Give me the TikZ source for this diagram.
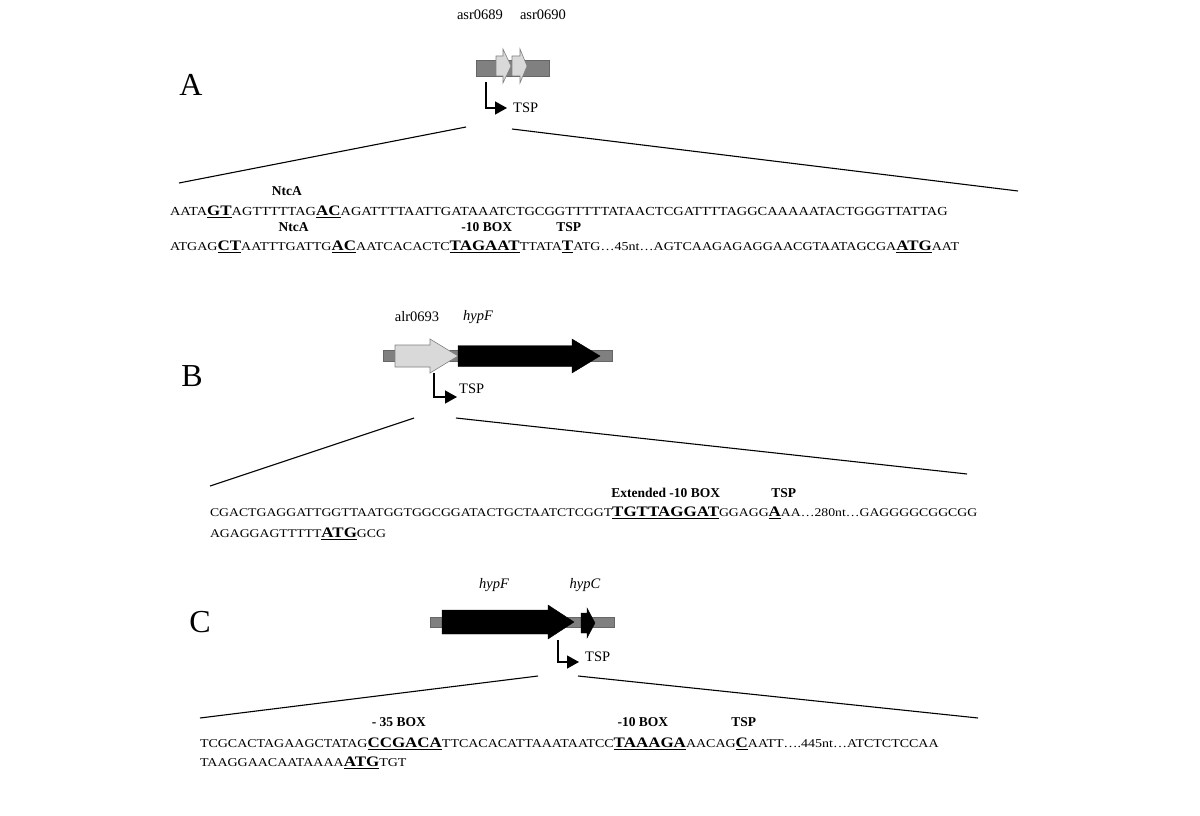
\documentclass[tikz,border=0pt]{standalone}
\usepackage{fontspec}
\setmainfont{Liberation Serif}
\newfontfamily\seqfont[FakeStretch=1.17]{Liberation Serif}
\usetikzlibrary{calc,arrows.meta}
\def\genearrow[#1](#2:#3:#4:#5)(#6:#7){\draw[#1] (#2,#5-#6) -- (#3,#5-#6) -- (#3,#5-#7) -- (#4,#5) -- (#3,#5+#7) -- (#3,#5+#6) -- (#2,#5+#6) -- cycle;}
\tikzset{
  seq/.style={inner sep=0pt, outer sep=0pt, anchor=base west, font=\seqfont\fontsize{#1}{14}\selectfont},
  seq/.default=12.1,
  motif/.style={inner sep=0pt, outer sep=0pt, anchor=base west, font=\seqfont\bfseries\fontsize{14.5}{17}\selectfont},
  lbl/.style={inner sep=0pt, anchor=base, font=\fontsize{13.5}{15}\selectfont\bfseries},
  gene/.style={inner sep=0pt, font=\fontsize{14.5}{16}\selectfont},
  panel/.style={inner sep=0pt, font=\fontsize{32}{34}\selectfont},
  uline/.style={line width=1.3pt},
  tsp/.style={line width=1.3pt, -{Triangle[length=12pt,width=13pt]}},
  spread/.style={line width=1.1pt},
  bar/.style={fill=black!50, draw=black!60, line width=0.4pt},
  light/.style={fill=black!15, draw=black!50, line width=0.6pt}
}
\begin{document}
\begin{tikzpicture}[x=1pt, y=-1pt]
			%%%%% START %%%%%
			\fill[white] (0,0) rectangle (1200,816);
			\useasboundingbox (0,0) rectangle (1200,816);
			
			%%%%% A %%%%%
			\node[panel] (pA) at (191,85) {A};
			\node[gene] (g689) at (480,15) {asr0689};
			\node[gene] (g690) at (543,15) {asr0690};
			\draw[bar] (476,60) rectangle (549,76);
			\genearrow[light](496:503:511:66)(10:17);
			\genearrow[light](512:520:527:66)(10:17);
			\coordinate (tipA) at (507,108);
			\draw[tsp] (486,82) |- (tipA);
			\node[gene, anchor=west] (tspA) at ($(tipA)+(6,0)$) {TSP};
			\draw[spread] (466,127) -- (179,183);
			\draw[spread] (512,129) -- (1018,191);
			
			\node[seq=12.3] (a1) at (170,215) {AATA};
			\node[motif] (a2) at (a1.base east) {GT};
			\node[seq=12.3] (a3) at (a2.base east) {AGTTTTTAG};
			\node[motif] (a4) at (a3.base east) {AC};
			\node[seq=12.3] (a5) at (a4.base east) {AGATTTTAATTGATAAATCTGCGGTTTTTATAACTCGATTTTAGGCAAAAATACTGGGTTATTAG};
			
			\node[seq=12] (a6) at (170,250) {ATGAG};
			\node[motif] (a7) at (a6.base east) {CT};
			\node[seq=12] (a8) at (a7.base east) {AATTTGATTG};
			\node[motif] (a9) at (a8.base east) {AC};
			\node[seq=12] (a10) at (a9.base east) {AATCACACTC};
			\node[motif] (a11) at (a10.base east) {TAGAAT};
			\node[seq=12] (a12) at (a11.base east) {TTATA};
			\node[motif] (a13) at (a12.base east) {T};
			\node[seq=12] (a14) at (a13.base east) {ATG…45nt…AGTCAAGAGAGGAACGTAATAGCGA};
			\node[motif] (a15) at (a14.base east) {ATG};
			\node[seq=12] (a16) at (a15.base east) {AAT};
			
			\node[lbl] (ntcA1) at ($(a2.base)!0.5!(a4.base)+(13,-20)$) {NtcA};
			\node[lbl] (ntcA2) at ($(a7.base)!0.5!(a9.base)+(7,-19)$) {NtcA};
			\node[lbl] (boxA) at ($(a11.base)+(2,-19)$) {-10 BOX};
			\node[lbl] (tspA2) at ($(a13.base)+(1,-19)$) {TSP};
			
			%%%%% B %%%%%
			\node[panel] (pB) at (192,376) {B};
			\node[gene] (g693) at (417,317) {alr0693};
			\node[gene] (hypFB) at (478,317) {\itshape hypF};
			\draw[bar] (383,350) rectangle (612,361);
			\genearrow[light](395:430:458:356)(11:17);
			\genearrow[fill=black](458:572:600:356)(10.5:17);
			\coordinate (tipB) at (457,397);
			\draw[tsp] (434,373) |- (tipB);
			\node[gene, anchor=west] (tspB) at ($(tipB)+(2,-8)$) {TSP};
			\draw[spread] (414,418) -- (210,486);
			\draw[spread] (456,418) -- (967,474);
			
			\node[seq=11.75] (b1) at (210,516) {CGACTGAGGATTGGTTAATGGTGGCGGATACTGCTAATCTCGGT};
			\node[motif] (b2) at (b1.base east) {TGTTAGGAT};
			\node[seq=11.75] (b3) at (b2.base east) {GGAGG};
			\node[motif] (b4) at (b3.base east) {A};
			\node[seq=11.75] (b5) at (b4.base east) {AA…280nt…GAGGGGCGGCGG};
			
			\node[seq=11.75] (b6) at (210,537) {AGAGGAGTTTTT};
			\node[motif] (b7) at (b6.base east) {ATG};
			\node[seq=11.75] (b8) at (b7.base east) {GCG};
			
			\node[lbl] (boxB) at ($(b2.base)+(0,-19)$) {Extended -10 BOX};
			\node[lbl] (tspB2) at ($(b4.base)+(9,-19)$) {TSP};
			
			%%%%% C %%%%%
			\node[panel] (pC) at (200,622) {C};
			\node[gene] (hypFC) at (494,585) {\itshape hypF};
			\node[gene] (hypCC) at (585,585) {\itshape hypC};
			\draw[bar] (430,617) rectangle (614,627);
			\genearrow[fill=black](442:548:574:622)(12:17);
			\genearrow[fill=black](581:587:595:623)(10:15);
			\coordinate (tipC) at (579,662);
			\draw[tsp] (558,640) |- (tipC);
			\node[gene, anchor=west] (tspC) at ($(tipC)+(6,-5)$) {TSP};
			\draw[spread] (538,676) -- (200,718);
			\draw[spread] (578,676) -- (978,718);
			
			\node[seq=11.95] (c1) at (200,747) {TCGCACTAGAAGCTATAG};
			\node[motif] (c2) at (c1.base east) {CCGACA};
			\node[seq=11.95] (c3) at (c2.base east) {TTCACACATTAAATAATCC};
			\node[motif] (c4) at (c3.base east) {TAAAGA};
			\node[seq=11.95] (c5) at (c4.base east) {AACAG};
			\node[motif] (c6) at (c5.base east) {C};
			\node[seq=11.95] (c7) at (c6.base east) {AATT….445nt…ATCTCTCCAA};
			
			\node[seq=11.95] (c8) at (200,766) {TAAGGAACAATAAAA};
			\node[motif] (c9) at (c8.base east) {ATG};
			\node[seq=11.95] (c10) at (c9.base east) {TGT};
			
			\node[lbl] (boxC1) at ($(c2.base)+(-6,-21)$) {- 35 BOX};
			\node[lbl] (boxC2) at ($(c4.base)+(-7,-21)$) {-10 BOX};
			\node[lbl] (tspC2) at ($(c6.base)+(2,-21)$) {TSP};
			
			% underlines of the boxes
			\foreach \n in {a2,a4,a7,a9,a11,a13,a15,b2,b4,b7,c2,c4,c6,c9}
			\draw[uline] ($(\n.base west)+(0,2.5)$) -- ($(\n.base east)+(0,2.5)$);
			%%%%% END %%%%%
\end{tikzpicture}
\end{document}
